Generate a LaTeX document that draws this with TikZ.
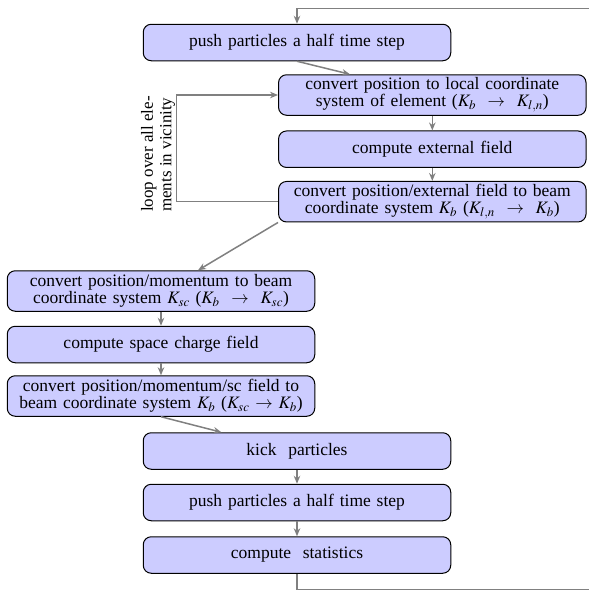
\documentclass[tikz,border=0pt]{standalone}
\usepackage{mathptmx}
\usepackage{fontspec}
\setmainfont[WordSpace=1.8]{Liberation Serif}
\newfontfamily\lblfont{Liberation Serif}
\usetikzlibrary{arrows.meta,calc}
\definecolor{boxfill}{RGB}{204,204,255}
\definecolor{linegray}{RGB}{128,128,128}
\tikzset{
  stepbox/.style={draw=black, line width=1pt, fill=boxfill, rounded corners=8pt,
    minimum width=307.5pt, text width=304pt, align=center, inner sep=0pt,
    font=\rmfamily\fontsize{17.5}{17}\selectfont},
  onel/.style={minimum height=36.5pt},
  twol/.style={minimum height=40.5pt},
  conn/.style={draw=linegray, line width=1.5pt, -{Stealth[length=8pt,width=6.5pt]}},
  plainline/.style={draw=linegray, line width=1.5pt},
  looplabel/.style={rotate=90, anchor=north west, align=left, inner sep=0pt,
    font=\lblfont\fontsize{17}{18.5}\selectfont},
}
\begin{document}
\begin{tikzpicture}[x=1pt,y=-1pt]
\useasboundingbox (0,0) rectangle (589,590);
\clip (0,0) rectangle (589,590);

\node[stepbox,onel] (b1) at (297,42.5) {push particles a half time step};
\node[stepbox,twol] (b2) at (432.3,95) {convert position to local coordinate\\system of element ($K_b$ \ $\rightarrow$ \ $K_{l,n}$)};
\node[stepbox,onel] (b3) at (432.3,149.2) {compute external field};
\node[stepbox,twol] (b4) at (432.3,201.7) {convert position/external field to beam\\coordinate system $K_b$ ($K_{l,n}$ \ $\rightarrow$ \ $K_b$)};
\node[stepbox,twol] (b5) at (161,291) {convert position/momentum to beam\\coordinate system $K_{sc}$ ($K_b$ \ $\rightarrow$ \ $K_{sc}$)};
\node[stepbox,onel] (b6) at (161,344.5) {compute space charge field};
\node[stepbox,twol] (b7) at (161,396) {convert position/momentum/sc field to\\beam coordinate system $K_b$ ($K_{sc}$ $\rightarrow$ $K_b$)};
\node[stepbox,onel] (b8) at (297,451) {kick \ particles};
\node[stepbox,onel] (b9) at (297,502.5) {push particles a half time step};
\node[stepbox,onel] (b10) at (297,555) {compute \ statistics};

\node[looplabel] (lbl) at (141,212) {loop over all ele-\\ments in vicinity};

\coordinate (tr) at (600,8.3);
\coordinate (br) at (600,589.3);
\coordinate (lp) at (176.5,150);

\draw[conn] (tr) -| (b1.north);
\draw[conn] (b1.south) -- ($(b2.north west)!0.233!(b2.north east)$);
\draw[conn] (b2) -- (b3);
\draw[conn] (b3) -- (b4);
\draw[conn] (b4.west) -- (b4.west -| lp) |- (b2.west);
\draw[conn] (b4.south west) -- ($(b5.north west)!0.62!(b5.north east)$);
\draw[conn] (b5) -- (b6);
\draw[conn] (b6) -- (b7);
\draw[conn] (b7.south) -- ($(b8.north west)!0.255!(b8.north east)$);
\draw[conn] (b8) -- (b9);
\draw[conn] (b9) -- (b10);
\draw[plainline] (b10.south) |- (br);
\end{tikzpicture}
\end{document}
